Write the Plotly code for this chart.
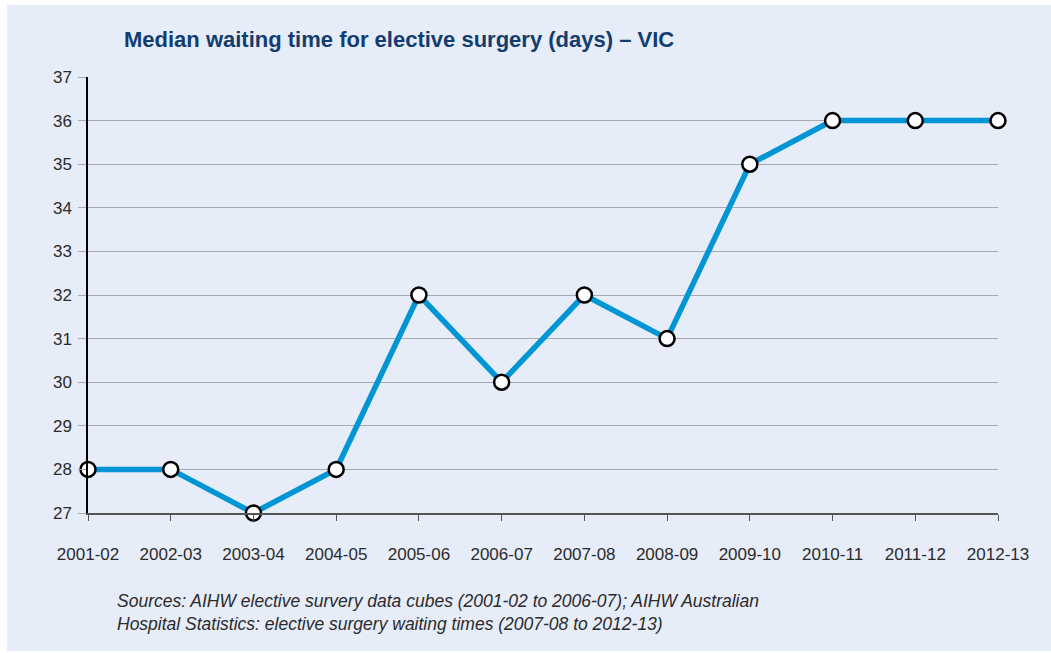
import plotly.graph_objects as go

# data
years = ["2001-02", "2002-03", "2003-04", "2004-05", "2005-06", "2006-07",
         "2007-08", "2008-09", "2009-10", "2010-11", "2011-12", "2012-13"]
median_days = [28, 28, 27, 28, 32, 30, 32, 31, 35, 36, 36, 36]
y_ticks = list(range(27, 38))

PANEL = "#E6ECF8"
LINE_BLUE = "#0095D5"
NAVY = "#123D6E"
TEXT = "#2B2B2B"
FONT = "Liberation Sans"

x_idx = list(range(len(years)))

fig = go.Figure()
fig.add_trace(
    go.Scatter(
        x=x_idx,
        y=median_days,
        mode="lines+markers",
        line=dict(color=LINE_BLUE, width=5.5),
        marker=dict(size=15, color="white", line=dict(color="black", width=2.5)),
        cliponaxis=False,
        showlegend=False,
    )
)

# light blue panel behind everything (white margin at top/left)
fig.add_shape(
    type="rect", xref="paper", yref="paper", layer="below",
    x0=(7 - 88) / 910, x1=(1060 - 88) / 910,
    y0=(513 - 651) / 436, y1=(513 - 5) / 436,
    fillcolor=PANEL, line_width=0,
)

fig.update_xaxes(
    range=[0, len(years) - 1],
    tickvals=x_idx,
    ticktext=years,
    showgrid=False,
    zeroline=False,
    showline=True,
    linecolor="#555555",
    linewidth=1.5,
    ticks="outside",
    ticklen=6,
    tickcolor="#555555",
    tickwidth=1.2,
    ticklabelstandoff=19,
    tickfont=dict(family=FONT, size=17, color=TEXT),
)
fig.update_yaxes(
    range=[27, 37],
    tickvals=y_ticks,
    showgrid=True,
    gridcolor="#A9A9AF",
    gridwidth=1,
    zeroline=False,
    showline=True,
    linecolor="black",
    linewidth=1.5,
    ticks="outside",
    ticklen=8,
    tickcolor="#A9A9AF",
    ticklabelstandoff=3,
    tickfont=dict(family=FONT, size=17, color=TEXT),
)

fig.add_annotation(
    text="<b>Median waiting time for elective surgery (days) – VIC</b>",
    xref="paper", yref="paper",
    x=(122 - 88) / 910, y=(513 - 40) / 436,
    xanchor="left", yanchor="middle", showarrow=False,
    font=dict(family=FONT, size=22, color=NAVY),
)
fig.add_annotation(
    text="<i>Sources: AIHW elective survery data cubes (2001-02 to 2006-07); AIHW Australian"
         "<br>Hospital Statistics: elective surgery waiting times (2007-08 to 2012-13)</i>",
    xref="paper", yref="paper",
    x=(115 - 88) / 910, y=(513 - 589) / 436,
    xanchor="left", yanchor="top", align="left", showarrow=False,
    font=dict(family=FONT, size=17.5, color=TEXT),
)

fig.update_layout(
    width=1051,
    height=653,
    margin=dict(l=88, r=53, t=77, b=140),
    paper_bgcolor="white",
    plot_bgcolor="rgba(0,0,0,0)",
    font=dict(family=FONT, color=TEXT),
)

fig.write_html(
    "out.html",
    config={"displayModeBar": False},
    post_script="document.body.style.margin = '0';",
)
